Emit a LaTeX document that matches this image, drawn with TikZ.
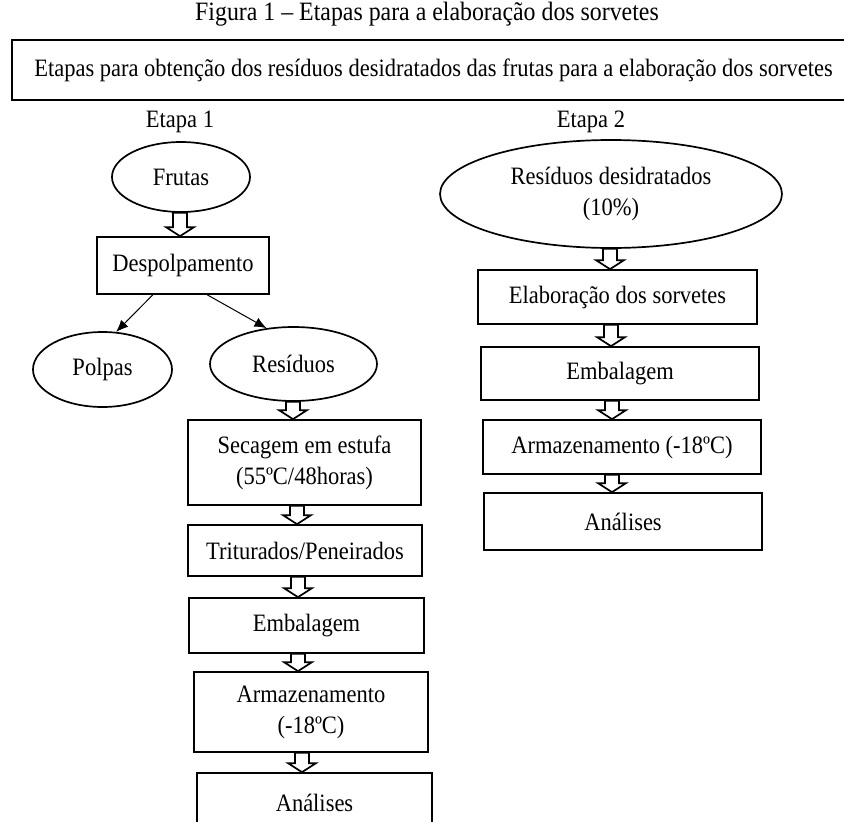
\documentclass[tikz,border=0pt]{standalone}
\usepackage{fontspec}
\setmainfont[FakeStretch=0.9]{Liberation Serif}
\usetikzlibrary{shapes.geometric,calc,arrows.meta}
\tikzset{
  txt/.style={font=\fontsize{25}{31}\selectfont},
  box/.style={draw, line width=1.7pt, inner sep=0pt, align=center, txt},
  oval/.style={draw, ellipse, line width=1.7pt, inner sep=0pt, align=center, txt},
  lbl/.style={inner sep=0pt, txt},
  harrow/.style={draw, line width=1.7pt, fill=white, line join=miter},
  thinarrow/.style={draw, line width=1pt, -{Latex[length=12pt,width=10pt]}}
}
\newcommand\hollowarr[3]{%
  \path let \p1=(#1.south), \p2=(#2.north) in
    [harrow] (#3pt-7pt,\y1) -- (#3pt+7pt,\y1) -- (#3pt+7pt,\y2+9pt) -- (#3pt+14pt,\y2+9pt) -- (#3pt,\y2) -- (#3pt-14pt,\y2+9pt) -- (#3pt-7pt,\y2+9pt) -- cycle;}
\begin{document}
\begin{tikzpicture}[x=1pt,y=-1pt]
\clip (0,0) rectangle (844,822);
\fill[white] (0,0) rectangle (844,822);
% title
\node[lbl, font=\fontsize{26.5}{31}\selectfont] (title) at (427,14) {Figura 1 – Etapas para a elaboração dos sorvetes};
\node[box, line width=2.2pt, minimum width=843, minimum height=60] (top) at (433.5,70) {Etapas para obtenção dos resíduos desidratados das frutas para a elaboração dos sorvetes};
\node[lbl] (et1) at (180,122) {Etapa 1};
\node[lbl] (et2) at (591,122) {Etapa 2};
% left column
\node[oval, minimum width=138, minimum height=70] (frutas) at (181,177) {Frutas};
\node[box, minimum width=172, minimum height=57] (desp) at (183,265.5) {Despolpamento};
\node[oval, minimum width=139, minimum height=75] (polpas) at (102.5,369.5) {Polpas};
\node[oval, minimum width=167, minimum height=74] (res) at (293.5,364) {Resíduos};
\node[box, minimum width=233, minimum height=85] (sec) at (304.5,462.5) {Secagem em estufa\\(55ºC/48horas)};
\node[box, minimum width=234, minimum height=51] (trit) at (305,550.5) {Triturados/Peneirados};
\node[box, minimum width=235, minimum height=55] (emb1) at (306.5,625.5) {Embalagem};
\node[box, minimum width=234, minimum height=80] (arm1) at (311,712) {Armazenamento\\(-18ºC)};
\node[box, minimum width=235, minimum height=60] (ana1) at (314.5,803) {Análises};
% right column
\node[oval, minimum width=342, minimum height=108] (resd) at (611,194) {Resíduos desidratados\\(10\%)};
\node[box, minimum width=279, minimum height=54] (elab) at (617.5,297) {Elaboração dos sorvetes};
\node[box, minimum width=278, minimum height=53] (emb2) at (620,373.5) {Embalagem};
\node[box, minimum width=278, minimum height=54] (arm2) at (622,447) {Armazenamento (-18ºC)};
\node[box, minimum width=278, minimum height=57] (ana2) at (623,521.5) {Análises};
% thin arrows
\coordinate (d1) at ($(desp.south west)!0.326!(desp.south east)$);
\coordinate (d2) at ($(desp.south west)!0.64!(desp.south east)$);
\draw[thinarrow] (d1) -- (polpas.70);
\draw[thinarrow] (d2) -- (res.127);
% hollow arrows
\hollowarr{frutas}{desp}{180}
\hollowarr{res}{sec}{293}
\hollowarr{sec}{trit}{297}
\hollowarr{trit}{emb1}{298}
\hollowarr{emb1}{arm1}{298}
\hollowarr{arm1}{ana1}{302}
\hollowarr{resd}{elab}{610}
\hollowarr{elab}{emb2}{611}
\hollowarr{emb2}{arm2}{612}
\hollowarr{arm2}{ana2}{612}
\end{tikzpicture}
\end{document}
